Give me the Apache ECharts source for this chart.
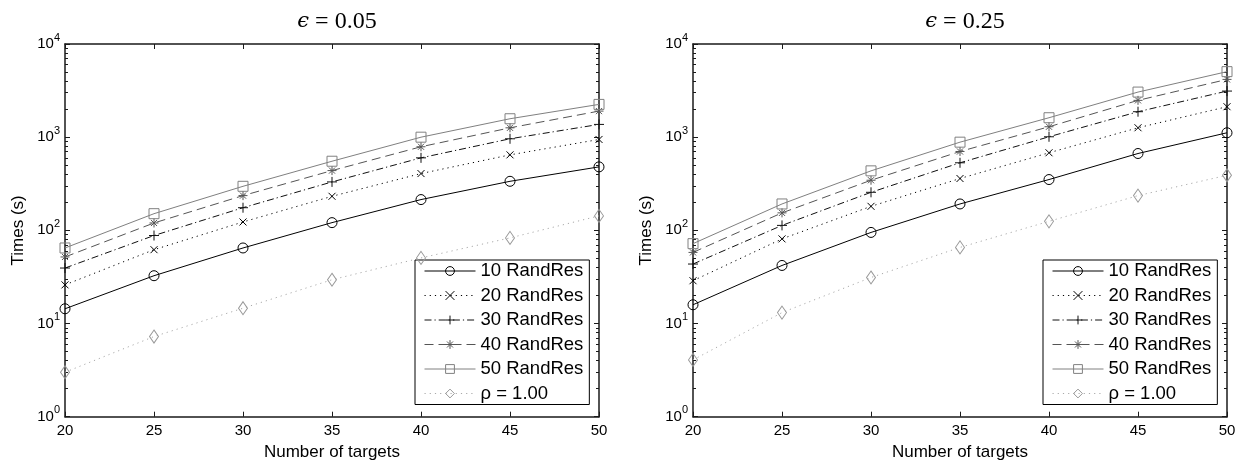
<!DOCTYPE html>
<html><head><meta charset="utf-8">
<script src="https://cdn.jsdelivr.net/npm/echarts@6/dist/echarts.min.js"></script>
<style>html,body{margin:0;padding:0;background:#fff}#c{width:1248px;height:469px}</style>
</head><body><div id="c"></div>
<script>
// ---------- data ----------
const targets = [20, 25, 30, 35, 40, 45, 50];
const seriesNames = ['10 RandRes', '20 RandRes', '30 RandRes', '40 RandRes', '50 RandRes', 'ρ = 1.00'];
const panelEps = ['0.05', '0.25'];
const yDecadeTicks = [1, 10, 100, 1000, 10000];

// epsilon = 0.05
const eps005_r10 = [14.4, 32.6, 64.7, 121, 214, 336, 480];
const eps005_r20 = [26, 62, 123, 232, 407, 646, 945];
const eps005_r30 = [39.4, 88, 175, 331, 600, 961, 1371];
const eps005_r40 = [51.8, 120, 236, 438, 789, 1260, 1905];
const eps005_r50 = [64.7, 151, 297, 552, 1000, 1577, 2248];
const eps005_rho = [3.0, 7.25, 14.6, 29.5, 50.6, 83, 143];

// epsilon = 0.25
const eps025_r10 = [15.9, 42, 95, 192, 351, 668, 1115];
const eps025_r20 = [28.8, 81, 181, 360, 680, 1262, 2123];
const eps025_r30 = [43.5, 113, 256, 531, 1010, 1876, 3125];
const eps025_r40 = [58, 154, 345, 702, 1294, 2483, 4170];
const eps025_r50 = [72, 192, 435, 884, 1617, 3048, 5050];
const eps025_rho = [4.07, 13.1, 31.2, 65.6, 125, 236, 390];

const panels = [
  [eps005_r10, eps005_r20, eps005_r30, eps005_r40, eps005_r50, eps005_rho],
  [eps025_r10, eps025_r20, eps025_r30, eps025_r40, eps025_r50, eps025_rho]
];

// minor log ticks (2..9 of each decade)
const minorTickValues = [];
for (let d = 0; d < 4; d++) for (let k = 2; k <= 9; k++) minorTickValues.push(k * Math.pow(10, d));

// ---------- styles ----------
const FONT = '"Liberation Sans", Arial, Helvetica, sans-serif';
const xPath = 'path://M0,0L10,10M0,10L10,0';
const plusPath = 'path://M5,0L5,10M0,5L10,5';
const starPath = 'path://M5,0L5,10M0,5L10,5M1.6,1.6L8.4,8.4M1.6,8.4L8.4,1.6';
const styles = [
  { line: '#000000', mark: '#000000', type: 'solid', symbol: 'circle', size: 10 },
  { line: '#000000', mark: '#000000', type: [1.2, 4], symbol: xPath, size: 7 },
  { line: '#111111', mark: '#111111', type: [7, 3, 1.2, 3], symbol: plusPath, size: 10 },
  { line: '#555555', mark: '#555555', type: [9, 5], symbol: starPath, size: 9 },
  { line: '#808080', mark: '#808080', type: 'solid', symbol: 'rect', size: 10 },
  { line: '#aaaaaa', mark: '#999999', type: [1.2, 4], symbol: 'diamond', size: [9, 13] }
];

const gridLefts = [65, 693];
const gridW = 534, gridTop = 44, gridH = 372.7;
const axisLineStyle = { color: '#1a1a1a', width: 1.5 };

const grid = [], xAxis = [], yAxis = [], series = [], title = [], legend = [];

for (let p = 0; p < 2; p++) {
  grid.push({ left: gridLefts[p], top: gridTop, width: gridW, height: gridH });
  title.push({
    text: '{e|ϵ} = ' + panelEps[p],
    left: gridLefts[p] + gridW / 2, top: 5, textAlign: 'center',
    textStyle: {
      fontFamily: '"Liberation Serif", "DejaVu Serif", serif', fontSize: 24, fontWeight: 'normal', color: '#000',
      rich: { e: { fontFamily: '"DejaVu Serif", serif', fontStyle: 'italic', fontSize: 21, color: '#000' } }
    }
  });
  // x axes: bottom (labels) and top (box ticks)
  xAxis.push({
    gridIndex: p, type: 'value', min: 20, max: 50, interval: 5, position: 'bottom',
    axisLine: { show: true, onZero: false, lineStyle: axisLineStyle },
    axisTick: { show: true, inside: true, length: 5, lineStyle: { color: '#1a1a1a', width: 1 } },
    axisLabel: { fontSize: 15, margin: 7, color: '#000', fontFamily: FONT },
    splitLine: { show: false },
    name: 'Number of targets', nameLocation: 'middle', nameGap: 27,
    nameTextStyle: { fontSize: 17, color: '#000', fontFamily: FONT }
  });
  xAxis.push({
    gridIndex: p, type: 'value', min: 20, max: 50, interval: 5, position: 'top',
    axisLine: { show: true, onZero: false, lineStyle: axisLineStyle },
    axisTick: { show: true, inside: true, length: 5, lineStyle: { color: '#1a1a1a', width: 1 } },
    axisLabel: { show: false }, splitLine: { show: false }
  });
  // y axes: left major (log), left minor, right major, right minor
  yAxis.push({
    gridIndex: p, type: 'log', logBase: 10, min: 1, max: 10000, position: 'left',
    axisLine: { show: true, onZero: false, lineStyle: axisLineStyle },
    axisTick: { show: true, inside: true, length: 5, lineStyle: { color: '#1a1a1a', width: 1 } },
    axisLabel: {
      margin: 5, color: '#000', fontFamily: FONT,
      formatter: v => '{b|10}{s|' + Math.round(Math.log10(v)) + '}',
      rich: {
        b: { fontSize: 15, lineHeight: 24, fontFamily: FONT, color: '#000' },
        s: { fontSize: 11, lineHeight: 11, verticalAlign: 'top', fontFamily: FONT, color: '#000' }
      }
    },
    splitLine: { show: false },
    name: 'Times (s)', nameLocation: 'middle', nameGap: 38,
    nameTextStyle: { fontSize: 17, color: '#000', fontFamily: FONT }
  });
  yAxis.push({
    gridIndex: p, type: 'value', min: 0, max: 4, position: 'left',
    axisLine: { show: false },
    axisTick: { show: true, inside: true, length: 3, customValues: minorTickValues.map(Math.log10), lineStyle: { color: '#1a1a1a', width: 1 } },
    axisLabel: { show: false }, splitLine: { show: false }
  });
  yAxis.push({
    gridIndex: p, type: 'log', logBase: 10, min: 1, max: 10000, position: 'right',
    axisLine: { show: true, onZero: false, lineStyle: axisLineStyle },
    axisTick: { show: true, inside: true, length: 5, lineStyle: { color: '#1a1a1a', width: 1 } },
    axisLabel: { show: false }, splitLine: { show: false }
  });
  yAxis.push({
    gridIndex: p, type: 'value', min: 0, max: 4, position: 'right',
    axisLine: { show: false },
    axisTick: { show: true, inside: true, length: 3, customValues: minorTickValues.map(Math.log10), lineStyle: { color: '#1a1a1a', width: 1 } },
    axisLabel: { show: false }, splitLine: { show: false }
  });

  for (let i = 0; i < 6; i++) {
    const st = styles[i];
    series.push({
      type: 'line', name: seriesNames[i], xAxisIndex: p * 2, yAxisIndex: p * 4,
      data: targets.map((x, k) => [x, panels[p][i][k]]),
      symbol: st.symbol, symbolSize: st.size, showSymbol: true, showAllSymbol: true,
      lineStyle: { color: st.line, width: 1, type: st.type },
      itemStyle: { color: 'transparent', borderColor: st.mark, borderWidth: 1 },
      emphasis: { disabled: true }, silent: true, z: 3 + i
    });
  }

  legend.push({
    data: seriesNames, orient: 'vertical', left: p === 0 ? 415 : 1043, top: 260,
    padding: [1, 6, 1, 9], itemWidth: 51, itemHeight: 11, itemGap: 4.5,
    backgroundColor: '#fff', borderColor: '#000', borderWidth: 1,
    selectedMode: false,
    lineStyle: { width: 1 },
    itemStyle: { borderWidth: 1 },
    textStyle: { fontSize: 18.5, lineHeight: 20, color: '#000', fontFamily: FONT }
  });
}

const chart = echarts.init(document.getElementById('c'), null, { renderer: 'canvas' });
chart.setOption({
  backgroundColor: '#fff', animation: false,
  title, grid, xAxis, yAxis, series, legend
});
</script></body></html>
